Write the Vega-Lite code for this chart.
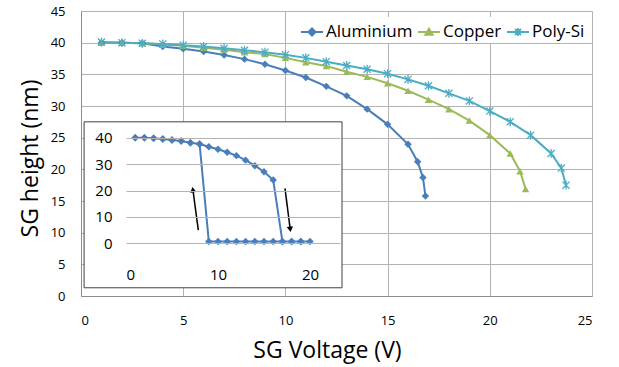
{
  "$schema": "https://vega.github.io/schema/vega-lite/v6.json",
  "autosize": {"type": "none"},
  "width": 511,
  "height": 285,
  "padding": {"left": 81, "top": 11, "right": 27, "bottom": 71},
  "background": "white",
  "config": {
    "view": {"stroke": null},
    "font": "Open Sans",
    "axis": {"labelFont": "Open Sans", "titleFont": "Open Sans", "labelColor": "#000", "titleColor": "#000", "titleFontWeight": "normal"},
    "legend": {
      "labelFont": "Open Sans", "orient": "none", "legendX": 216, "legendY": 6, "direction": "horizontal",
      "fillColor": "white", "padding": 3, "symbolSize": 484, "labelFontSize": 17, "labelOffset": 2,
      "columnPadding": 1, "labelColor": "#000", "symbolStrokeWidth": 2, "symbolOpacity": 1
    }
  },
  "datasets": {
    "main": [
      {"material": "Aluminium", "volt": 1, "height": 40.0},
      {"material": "Aluminium", "volt": 2, "height": 40.0},
      {"material": "Aluminium", "volt": 3, "height": 39.9},
      {"material": "Aluminium", "volt": 4, "height": 39.4},
      {"material": "Aluminium", "volt": 5, "height": 39.05},
      {"material": "Aluminium", "volt": 6, "height": 38.6},
      {"material": "Aluminium", "volt": 7, "height": 38.05},
      {"material": "Aluminium", "volt": 8, "height": 37.4},
      {"material": "Aluminium", "volt": 9, "height": 36.6},
      {"material": "Aluminium", "volt": 10, "height": 35.6},
      {"material": "Aluminium", "volt": 11, "height": 34.5},
      {"material": "Aluminium", "volt": 12, "height": 33.1},
      {"material": "Aluminium", "volt": 13, "height": 31.6},
      {"material": "Aluminium", "volt": 14, "height": 29.5},
      {"material": "Aluminium", "volt": 15, "height": 27.1},
      {"material": "Aluminium", "volt": 16, "height": 23.95},
      {"material": "Aluminium", "volt": 16.47, "height": 21.2},
      {"material": "Aluminium", "volt": 16.73, "height": 18.7},
      {"material": "Aluminium", "volt": 16.85, "height": 15.8},
      {"material": "Copper", "volt": 1, "height": 40.0},
      {"material": "Copper", "volt": 2, "height": 40.0},
      {"material": "Copper", "volt": 3, "height": 39.9},
      {"material": "Copper", "volt": 4, "height": 39.7},
      {"material": "Copper", "volt": 5, "height": 39.5},
      {"material": "Copper", "volt": 6, "height": 39.2},
      {"material": "Copper", "volt": 7, "height": 38.9},
      {"material": "Copper", "volt": 8, "height": 38.5},
      {"material": "Copper", "volt": 9, "height": 38.2},
      {"material": "Copper", "volt": 10, "height": 37.6},
      {"material": "Copper", "volt": 11, "height": 36.9},
      {"material": "Copper", "volt": 12, "height": 36.3},
      {"material": "Copper", "volt": 13, "height": 35.4},
      {"material": "Copper", "volt": 14, "height": 34.6},
      {"material": "Copper", "volt": 15, "height": 33.6},
      {"material": "Copper", "volt": 16, "height": 32.4},
      {"material": "Copper", "volt": 17, "height": 31.0},
      {"material": "Copper", "volt": 18, "height": 29.5},
      {"material": "Copper", "volt": 19, "height": 27.7},
      {"material": "Copper", "volt": 20, "height": 25.4},
      {"material": "Copper", "volt": 21, "height": 22.5},
      {"material": "Copper", "volt": 21.48, "height": 19.7},
      {"material": "Copper", "volt": 21.75, "height": 16.9},
      {"material": "Poly-Si", "volt": 1, "height": 40.1},
      {"material": "Poly-Si", "volt": 2, "height": 40.0},
      {"material": "Poly-Si", "volt": 3, "height": 39.9},
      {"material": "Poly-Si", "volt": 4, "height": 39.8},
      {"material": "Poly-Si", "volt": 5, "height": 39.6},
      {"material": "Poly-Si", "volt": 6, "height": 39.4},
      {"material": "Poly-Si", "volt": 7, "height": 39.1},
      {"material": "Poly-Si", "volt": 8, "height": 38.8},
      {"material": "Poly-Si", "volt": 9, "height": 38.5},
      {"material": "Poly-Si", "volt": 10, "height": 38.1},
      {"material": "Poly-Si", "volt": 11, "height": 37.6},
      {"material": "Poly-Si", "volt": 12, "height": 37.0},
      {"material": "Poly-Si", "volt": 13, "height": 36.4},
      {"material": "Poly-Si", "volt": 14, "height": 35.8},
      {"material": "Poly-Si", "volt": 15, "height": 35.1},
      {"material": "Poly-Si", "volt": 16, "height": 34.2},
      {"material": "Poly-Si", "volt": 17, "height": 33.2},
      {"material": "Poly-Si", "volt": 18, "height": 32.0},
      {"material": "Poly-Si", "volt": 19, "height": 30.8},
      {"material": "Poly-Si", "volt": 20, "height": 29.2},
      {"material": "Poly-Si", "volt": 21, "height": 27.5},
      {"material": "Poly-Si", "volt": 22, "height": 25.4},
      {"material": "Poly-Si", "volt": 23, "height": 22.5},
      {"material": "Poly-Si", "volt": 23.5, "height": 20.2},
      {"material": "Poly-Si", "volt": 23.73, "height": 17.5}
    ],
    "box": [
      {"volt": 0.15, "volt2": 12.77, "height": 1.3, "height2": 27.5}
    ],
    "inset": [
      {"step": 1, "v": 1, "h": 40.0},
      {"step": 2, "v": 2, "h": 40.0},
      {"step": 3, "v": 3, "h": 39.8},
      {"step": 4, "v": 4, "h": 39.5},
      {"step": 5, "v": 5, "h": 39.1},
      {"step": 6, "v": 6, "h": 38.75},
      {"step": 7, "v": 7, "h": 38.1},
      {"step": 8, "v": 8, "h": 37.6},
      {"step": 9, "v": 9, "h": 36.6},
      {"step": 10, "v": 10, "h": 35.6},
      {"step": 11, "v": 11, "h": 34.5},
      {"step": 12, "v": 12, "h": 33.2},
      {"step": 13, "v": 13, "h": 31.5},
      {"step": 14, "v": 14, "h": 29.4},
      {"step": 15, "v": 15, "h": 27.1},
      {"step": 16, "v": 16, "h": 24.0},
      {"step": 17, "v": 17, "h": 0.7},
      {"step": 18, "v": 18, "h": 0.7},
      {"step": 19, "v": 19, "h": 0.7},
      {"step": 20, "v": 20, "h": 0.7},
      {"step": 21, "v": 19, "h": 0.7},
      {"step": 22, "v": 18, "h": 0.7},
      {"step": 23, "v": 17, "h": 0.7},
      {"step": 24, "v": 16, "h": 0.7},
      {"step": 25, "v": 15, "h": 0.7},
      {"step": 26, "v": 14, "h": 0.7},
      {"step": 27, "v": 13, "h": 0.7},
      {"step": 28, "v": 12, "h": 0.7},
      {"step": 29, "v": 11, "h": 0.7},
      {"step": 30, "v": 10, "h": 0.7},
      {"step": 31, "v": 9, "h": 0.7},
      {"step": 32, "v": 8, "h": 37.6},
      {"step": 33, "v": 7, "h": 38.1},
      {"step": 34, "v": 6, "h": 38.75},
      {"step": 35, "v": 5, "h": 39.1},
      {"step": 36, "v": 4, "h": 39.5},
      {"step": 37, "v": 3, "h": 39.8},
      {"step": 38, "v": 2, "h": 40.0},
      {"step": 39, "v": 1, "h": 40.0}
    ],
    "arrows": [
      {"dir": "up", "v": 7.27, "h": 20.3, "v2": 7.86, "h2": 5.0},
      {"dir": "down", "v": 17.85, "h": 5.3, "v2": 17.28, "h2": 20.8}
    ]
  },
  "layer": [
    {
      "data": {"name": "main"},
      "encoding": {
        "x": {
          "field": "volt", "type": "quantitative",
          "scale": {"domain": [0, 25], "nice": false, "zero": false},
          "axis": {
            "orient": "bottom", "values": [0, 5, 10, 15, 20, 25], "grid": true, "gridColor": "#b3b3b3",
            "domainColor": "#8c8c8c", "ticks": false, "labelFontSize": 13, "labelPadding": 18,
            "title": "SG Voltage (V)", "titleFontSize": 23, "titleX": 246, "titleY": 61, "titleBaseline": "alphabetic"
          }
        },
        "y": {
          "field": "height", "type": "quantitative",
          "scale": {"domain": [0, 45], "nice": false, "zero": false},
          "axis": {
            "orient": "left", "values": [0, 5, 10, 15, 20, 25, 30, 35, 40, 45], "grid": true, "gridColor": "#b3b3b3",
            "domainColor": "#8c8c8c", "ticks": false, "labelFontSize": 13, "labelPadding": 16,
            "title": "SG height (nm)", "titleFontSize": 23, "titleX": -44, "titleY": 147, "titleBaseline": "alphabetic", "titleAngle": 270
          }
        }
      },
      "layer": [
        {
          "transform": [{"filter": "datum.material === 'Aluminium'"}],
          "mark": {"type": "line", "strokeWidth": 2, "color": "#4A7EBB"}
        },
        {
          "transform": [{"filter": "datum.material === 'Copper'"}],
          "mark": {"type": "line", "strokeWidth": 2, "color": "#9BBB59"}
        },
        {
          "transform": [{"filter": "datum.material === 'Poly-Si'"}],
          "mark": {"type": "line", "strokeWidth": 2, "color": "#4BACC6"}
        },
        {
          "transform": [{"filter": "datum.material === 'Aluminium'"}],
          "mark": {"type": "point", "shape": "diamond", "filled": true, "size": 55, "opacity": 1, "color": "#4A7EBB"}
        },
        {
          "transform": [{"filter": "datum.material === 'Copper'"}],
          "mark": {"type": "point", "shape": "triangle-up", "filled": true, "size": 55, "opacity": 1, "color": "#9BBB59"}
        },
        {
          "transform": [{"filter": "datum.material === 'Poly-Si'"}],
          "mark": {"type": "point", "shape": "M-1,-1L1,1M-1,1L1,-1M0,-1.25L0,1.25", "filled": false, "size": 50, "opacity": 1, "color": "#4BACC6", "strokeWidth": 1.3}
        },
        {
          "transform": [{"filter": "datum.volt === 1"}],
          "mark": {"type": "point", "filled": true, "opacity": 0},
          "encoding": {
            "fill": {
              "field": "material", "type": "nominal",
              "scale": {"domain": ["Aluminium", "Copper", "Poly-Si"], "range": ["#4A7EBB", "#9BBB59", "#4BACC6"]},
              "legend": {"title": null}
            },
            "stroke": {
              "field": "material", "type": "nominal",
              "scale": {"domain": ["Aluminium", "Copper", "Poly-Si"], "range": ["#4A7EBB", "#9BBB59", "#4BACC6"]},
              "legend": {"title": null}
            },
            "shape": {
              "field": "material", "type": "nominal",
              "scale": {
                "domain": ["Aluminium", "Copper", "Poly-Si"],
                "range": [
                  "M-1,0L1,0M0,-0.32L0.32,0L0,0.32L-0.32,0Z",
                  "M-1,0L1,0M0,-0.3L0.33,0.25L-0.33,0.25Z",
                  "M-1,0L1,0M-0.27,-0.27L0.27,0.27M-0.27,0.27L0.27,-0.27M0,-0.33L0,0.33"
                ]
              },
              "legend": {"title": null}
            }
          }
        },
        {
          "data": {"name": "box"},
          "mark": {"type": "rect", "fill": "white", "stroke": "#404040", "strokeWidth": 1},
          "encoding": {
            "x2": {"field": "volt2"},
            "y2": {"field": "height2"}
          }
        }
      ]
    },
    {
      "encoding": {
        "x": {
          "field": "v", "type": "quantitative",
          "scale": {"domain": [0, 23.26], "range": [45, 259], "nice": false, "zero": false},
          "axis": {
            "orient": "bottom", "offset": -53, "values": [0, 10, 20], "grid": false, "domain": false, "ticks": false,
            "labelFontSize": 15, "labelPadding": 24, "title": null, "zindex": 1
          }
        },
        "y": {
          "field": "h", "type": "quantitative",
          "scale": {"domain": [0, 40], "range": [232.3, 126.7], "nice": false, "zero": false},
          "axis": {
            "orient": "left", "offset": -45, "values": [0, 10, 20, 30, 40], "grid": true, "gridColor": "#b3b3b3",
            "domain": false, "ticks": false, "labelFontSize": 15, "labelPadding": 14, "title": null, "zindex": 1
          }
        }
      },
      "layer": [
        {
          "data": {"name": "inset"},
          "mark": {"type": "line", "color": "#4A7EBB", "strokeWidth": 2},
          "encoding": {"order": {"field": "step", "type": "quantitative"}}
        },
        {
          "data": {"name": "inset"},
          "mark": {"type": "point", "shape": "diamond", "filled": true, "color": "#4A7EBB", "size": 55, "opacity": 1}
        },
        {
          "data": {"name": "arrows"},
          "mark": {"type": "rule", "color": "#000", "strokeWidth": 1.5},
          "encoding": {"x2": {"field": "v2"}, "y2": {"field": "h2"}}
        },
        {
          "data": {"name": "arrows"},
          "transform": [{"filter": "datum.dir === 'up'"}],
          "mark": {"type": "point", "shape": "triangle-up", "filled": true, "color": "#000", "size": 40, "angle": 352, "opacity": 1}
        },
        {
          "data": {"name": "arrows"},
          "transform": [{"filter": "datum.dir === 'down'"}],
          "mark": {"type": "point", "shape": "triangle-up", "filled": true, "color": "#000", "size": 40, "angle": 173, "opacity": 1}
        }
      ]
    }
  ],
  "resolve": {
    "scale": {"x": "independent", "y": "independent"},
    "axis": {"x": "independent", "y": "independent"}
  }
}
